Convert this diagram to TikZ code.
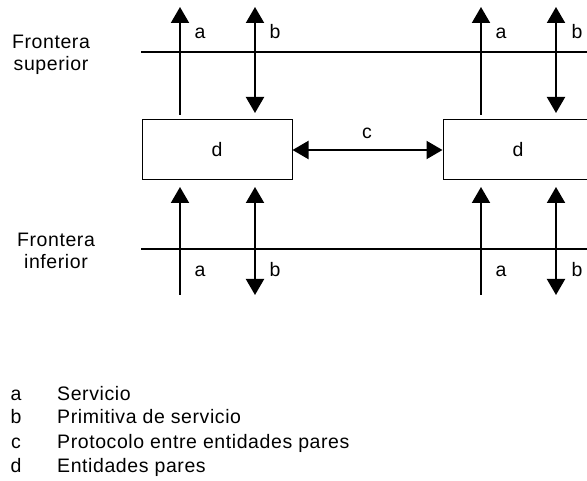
\documentclass[tikz,border=0pt]{standalone}
\usepackage{fontspec}
\setmainfont{Liberation Sans}[LetterSpace=3]
\usetikzlibrary{arrows.meta}
\begin{document}
\begin{tikzpicture}[x=1pt,y=-1pt,
  txt/.style={font=\fontsize{19.5}{22.5}\selectfont, inner sep=0pt},
  entity/.style={draw, line width=1pt, minimum width=150pt, minimum height=60pt, inner sep=0pt, font=\fontsize{19.5}{22.5}\selectfont},
  bound/.style={line width=2pt},
  flow/.style={line width=2pt, -{Triangle[width=18pt,length=16pt]}},
  bflow/.style={line width=2pt, {Triangle[width=18pt,length=16pt]}-{Triangle[width=18pt,length=16pt]}}]
\useasboundingbox (0,0) rectangle (587,481);
% entities
\node[entity] (d1) at (217,150) {d};
\node[entity] (d2) at (518,150) {d};
% boundaries
\coordinate (tl) at (141,52); \coordinate (tr) at (590,52);
\coordinate (bl) at (141,249); \coordinate (br) at (590,249);
\draw[bound] (tl) -- (tr);
\draw[bound] (bl) -- (br);
% peer protocol
\draw[bflow] (d1.east) -- (d2.west);
\node[txt, anchor=base] (c) at (367,139) {c};
% vertical arrows
\foreach \n/\x in {1/180, 2/481} {
  \coordinate (ua\n s) at (\x,115); \coordinate (ua\n e) at (\x,7);
  \coordinate (la\n s) at (\x,295); \coordinate (la\n e) at (\x,187);
  \draw[flow] (ua\n s) -- (ua\n e);
  \draw[flow] (la\n s) -- (la\n e);
}
\foreach \n/\x in {1/255, 2/556} {
  \coordinate (ub\n s) at (\x,7); \coordinate (ub\n e) at (\x,113);
  \coordinate (lb\n s) at (\x,187); \coordinate (lb\n e) at (\x,295);
  \draw[bflow] (ub\n s) -- (ub\n e);
  \draw[bflow] (lb\n s) -- (lb\n e);
}
% labels a, b
\node[txt, anchor=base] (ta1) at (200,39) {a};
\node[txt, anchor=base] (tb1) at (275,39) {b};
\node[txt, anchor=base] (ta2) at (501,39) {a};
\node[txt, anchor=base] (tb2) at (577,39) {b};
\node[txt, anchor=base] (ba1) at (200,277) {a};
\node[txt, anchor=base] (bb1) at (275,277) {b};
\node[txt, anchor=base] (ba2) at (501,277) {a};
\node[txt, anchor=base] (bb2) at (577,277) {b};
% boundary names
\node[txt, align=center] (fs) at (51,55) {Frontera\\superior};
\node[txt, align=center] (fi) at (56,251) {Frontera\\inferior};
% legend
\node[txt, anchor=base] (la) at (16,400) {a}; \node[txt, anchor=base west] (lta) at (57,400) {Servicio};
\node[txt, anchor=base] (lb) at (16,424) {b}; \node[txt, anchor=base west] (ltb) at (57,424) {Primitiva de servicio};
\node[txt, anchor=base] (lc) at (16,448) {c}; \node[txt, anchor=base west] (ltc) at (57,448) {Protocolo entre entidades pares};
\node[txt, anchor=base] (ld) at (16,472) {d}; \node[txt, anchor=base west] (ltd) at (57,472) {Entidades pares};
\end{tikzpicture}
\end{document}
